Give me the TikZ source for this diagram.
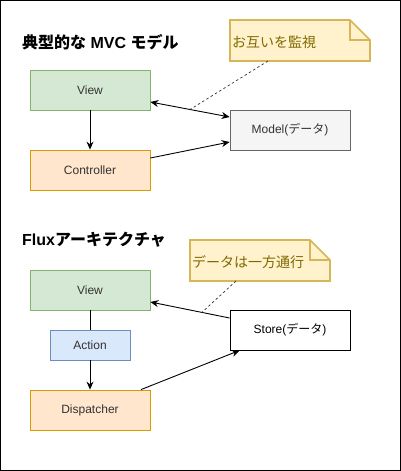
\documentclass[tikz,border=0pt]{standalone}
\usepackage{fontspec}
\setmainfont{Liberation Sans}
\newfontfamily\jp{Noto Sans CJK JP}
\usetikzlibrary{arrows.meta,calc}
\definecolor{gfill}{HTML}{D5E8D4}\definecolor{gline}{HTML}{82B366}
\definecolor{ofill}{HTML}{FFE6CC}\definecolor{oline}{HTML}{D79B00}
\definecolor{bfill}{HTML}{DAE8FC}\definecolor{bline}{HTML}{6C8EBF}
\definecolor{mfill}{HTML}{F5F5F5}\definecolor{mline}{HTML}{666666}
\definecolor{nfill}{HTML}{FFF2CC}\definecolor{nline}{HTML}{D6B656}
\definecolor{ntext}{HTML}{7F6A00}
\definecolor{txt}{HTML}{333333}
\tikzset{
  box/.style={draw, line width=0.8pt, minimum width=120pt, minimum height=40pt, inner sep=0pt, text=txt, font=\fontsize{12}{14}\selectfont},
  conn/.style={line width=0.9pt, -{Stealth[length=8pt,width=7pt]}},
  dconn/.style={line width=0.9pt, {Stealth[length=8pt,width=7pt]}-{Stealth[length=8pt,width=7pt]}},
  plain/.style={line width=0.9pt},
  dots/.style={line width=0.7pt, dash pattern=on 2.5pt off 2.5pt, black!80},
  ttl/.style={anchor=west, inner sep=0pt, font=\fontsize{16}{19}\selectfont\bfseries},
  notetxt/.style={anchor=west, inner sep=0pt, text=ntext, font=\fontsize{14}{16}\selectfont\jp},
  notebox/.style={fill=nfill, draw=nline, line width=1.6pt, line join=miter}
}
\begin{document}
\begin{tikzpicture}[x=1pt,y=-1pt]
\useasboundingbox (0,0) rectangle (401,471);
\draw[line width=1pt] (0.5,0.5) rectangle (400.5,470.5);

% ---- MVC ----
\node[ttl] (t1) at (22,42) {{\jp 典型的な} MVC {\jp モデル}};
\draw[notebox] (230,20) -- (350,20) -- (370,40) -- (370,61) -- (230,61) -- cycle;
\draw[nline, line width=1.6pt] (350,20) -- (350,40) -- (370,40);
\node[notetxt] (n1) at (232,42) {お互いを監視};
\coordinate (n1b) at (268,61);

\node[box, fill=gfill, draw=gline] (v1) at (90,90) {View};
\node[box, fill=ofill, draw=oline] (c1) at (90,170) {Controller};
\node[box, fill=mfill, draw=mline] (m1) at (290,130) {Model({\jp データ})};

\draw[conn] (v1) -- (c1);
\draw[dconn] ($(v1.east)+(0,12)$) coordinate (a1) -- ($(m1.west)+(0,-13)$) coordinate (a2);
\draw[conn] ($(c1.east)+(0,-12)$) -- ($(m1.west)+(0,12)$);
\draw[dots] (n1b) -- ($(a1)!0.5!(a2)$);

% ---- Flux ----
\node[ttl] (t2) at (22,240) {Flux{\jp アーキテクチャ}};
\draw[notebox] (190,240) -- (310,240) -- (330,260) -- (330,281) -- (190,281) -- cycle;
\draw[nline, line width=1.6pt] (310,240) -- (310,260) -- (330,260);
\node[notetxt] (n2) at (192,262) {データは一方通行};
\coordinate (n2b) at (236,281);

\node[box, fill=gfill, draw=gline] (v2) at (90,290) {View};
\node[box, fill=bfill, draw=bline, minimum width=80pt, minimum height=30pt] (ac) at (90,345) {Action};
\node[box, fill=ofill, draw=oline] (d2) at (90,410) {Dispatcher};
\node[box, fill=white, draw=black, text=black] (s2) at (290,330) {Store({\jp データ})};

\draw[plain] (v2) -- (ac);
\draw[conn] (ac) -- (d2);
\draw[conn] ($(d2.north)+(51,0)$) -- ($(s2.south west)+(10,0)$);
\draw[conn] ($(s2.west)+(0,-12)$) coordinate (b1) -- ($(v2.east)+(0,12)$) coordinate (b2);
\draw[dots] (n2b) -- ($(b1)!0.35!(b2)$);
\end{tikzpicture}
\end{document}
